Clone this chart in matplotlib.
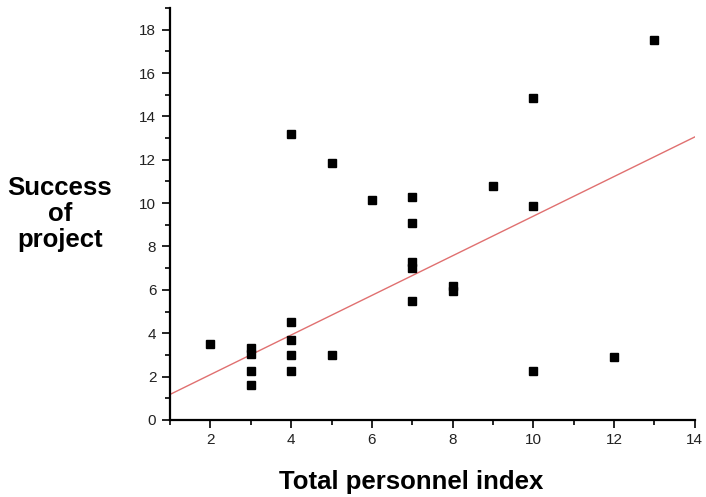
import numpy as np
import matplotlib
matplotlib.use("Agg")
import matplotlib.pyplot as plt
from matplotlib.ticker import MultipleLocator

# personnel index vs. success of project
personnel = [2, 3, 3, 3, 3, 4, 4, 4, 4, 4, 5, 5, 6, 7, 7, 7, 7, 7, 8, 8, 9, 10, 10, 10, 12, 13]
success = [3.5, 3.3, 3.05, 2.25, 1.6, 4.5, 3.7, 3.0, 2.25, 13.2, 3.0, 11.85, 10.15,
           10.3, 9.1, 7.3, 7.0, 5.5, 6.2, 5.95, 10.8, 14.85, 9.85, 2.25, 2.9, 17.5]

# linear fit drawn in the chart
fit_start = 1.18
fit_end = 13.05

plt.rcParams['font.family'] = ['Liberation Sans', 'DejaVu Sans']

fig = plt.figure(figsize=(7.06, 4.97), dpi=100)
ax = fig.add_axes([0.241, 0.155, 0.743, 0.829])

ax.plot(personnel, success, 's', color='black', markersize=6.3, zorder=3)
ax.plot([1, 14], [fit_start, fit_end], color='#e07070', linewidth=1.0, zorder=2)

ax.set_xlim(1, 14)
ax.set_ylim(0, 19)
ax.xaxis.set_major_locator(MultipleLocator(2))
ax.xaxis.set_minor_locator(MultipleLocator(1))
ax.yaxis.set_major_locator(MultipleLocator(2))
ax.yaxis.set_minor_locator(MultipleLocator(1))
ax.set_yticks(np.arange(0, 19, 2))

for side in ['top', 'right']:
    ax.spines[side].set_visible(False)
for side in ['left', 'bottom']:
    ax.spines[side].set_linewidth(1.6)
ax.tick_params(which='major', length=6, width=1.2, labelsize=11, color='black',
               labelcolor='#222222')
ax.tick_params(which='minor', length=3.5, width=1.2)
ax.tick_params(axis='y', pad=4)

fig.text(0.582, 0.030, 'Total personnel index', fontsize=18.5, fontweight='bold',
         ha='center', va='center')
fig.text(0.085, 0.569, 'Success\nof\nproject', fontsize=18.5, fontweight='bold',
         ha='center', va='center', linespacing=1.12)

fig.savefig('out.png', dpi=100)
